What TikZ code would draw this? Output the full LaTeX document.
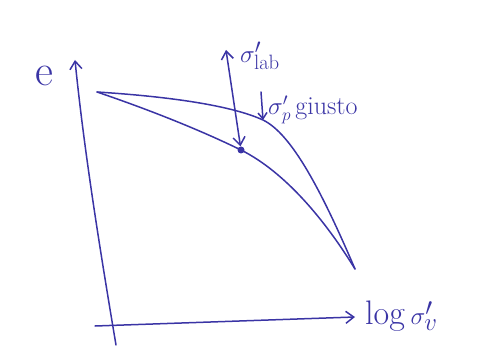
\documentclass[tikz,border=0pt]{standalone}
\usepackage{tikz}
\usetikzlibrary{arrows.meta,positioning}
\definecolor{ink}{RGB}{58,52,165}

\begin{document}
\begin{tikzpicture}[
    x=1pt, y=-1pt,
    >={Straight Barb[length=8pt,width=12pt]},
    pen/.style={draw=ink, line width=1.5pt, line cap=round, line join=round},
    lbl/.style={text=ink, inner sep=0pt}
]
\useasboundingbox (0,0) rectangle (484,347);
% axes
\coordinate (o) at (116,345);
\coordinate (ytop) at (75,60);
\coordinate (xl) at (95,326);
\coordinate (xr) at (355,317);
\draw[pen, ->] (o) .. controls (100,250) and (84,150) .. (ytop);
\draw[pen, ->] (xl) -- (xr);
\node[lbl, font=\fontsize{44}{44}\selectfont] (e) at (44,76) {e};
\node[lbl, font=\fontsize{34}{34}\selectfont, anchor=west] (xlab) at (365,316) {log\,$\sigma'_{v}$};
% curves
\coordinate (a) at (97,92);
\coordinate (b) at (355,269);
\node[circle, fill=ink, inner sep=0pt, minimum size=7pt] (labpt) at (241,150) {};
\coordinate (pg) at (263,120);
\draw[pen] (a) .. controls (150,110) and (200,130) .. (labpt.center)
    .. controls (285,172) and (325,220) .. (b);
\draw[pen] (a) .. controls (160,96) and (228,104) .. (pg)
    .. controls (292,134) and (322,192) .. (b);
% arrows and labels
\coordinate (labtop) at (226,50);
\coordinate (pgtop) at (261,92);
\draw[pen, <->] (labtop) -- (labpt);
\draw[pen, ->, >={Straight Barb[length=6pt,width=9pt]}] (pgtop) -- (pg);
\node[lbl, font=\fontsize{30}{30}\selectfont, anchor=south west] (sl) at (240,70) {$\sigma'_{\mathrm{lab}}$};
\node[lbl, font=\fontsize{26}{26}\selectfont, anchor=west] (sp) at (268,110) {$\sigma'_{p}$\,giusto};
\end{tikzpicture}
\end{document}
